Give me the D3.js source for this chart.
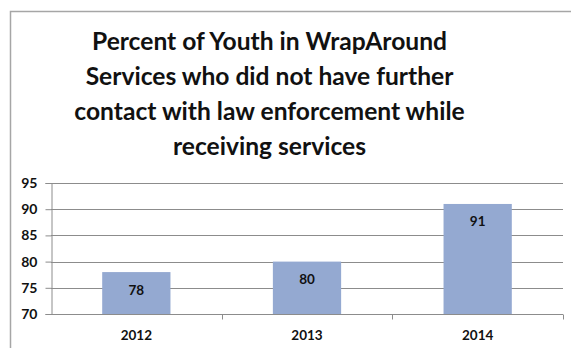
<!DOCTYPE html>
<html>
<head>
<meta charset="utf-8">
<script src="https://cdn.jsdelivr.net/npm/d3@7"></script>
<style>
  html, body { margin: 0; padding: 0; background: #fff; }
  svg { display: block; }
  text { font-family: Lato, "Open Sans", sans-serif; font-weight: bold; fill: #111; }
</style>
</head>
<body>
<svg id="chart" width="571" height="348"></svg>
<script>
// Chart data
const years = ["2012", "2013", "2014"];
const percents = [78, 80, 91];
const yTicks = [70, 75, 80, 85, 90, 95];
const titleLines = [
  "Percent of Youth in WrapAround",
  "Services who did not have further",
  "contact with law enforcement while",
  "receiving services"
];

const svg = d3.select("#chart");
const W = 571, H = 348;
const plot = { left: 51, right: 563, top: 183, bottom: 314 };

// Outer chart frame (top and left edges visible)
svg.append("path")
  .attr("d", `M10.5,${H} V11.5 H${W}`)
  .attr("fill", "none")
  .attr("stroke", "#a6a6a6")
  .attr("stroke-width", 1.5);

// Title
svg.append("g").selectAll("text").data(titleLines).join("text")
  .attr("x", 269.5)
  .attr("y", (d, i) => 50 + i * 35)
  .attr("text-anchor", "middle")
  .attr("font-size", 24.6)
  .text(d => d);

const x = d3.scaleBand().domain(years).range([plot.left, plot.right]).paddingInner(0.6).paddingOuter(0.3);
const y = d3.scaleLinear().domain([70, 95]).range([plot.bottom, plot.top]);

// Horizontal gridlines
svg.append("g").selectAll("line").data(yTicks.filter(t => t > 70)).join("line")
  .attr("x1", plot.left).attr("x2", plot.right)
  .attr("y1", d => Math.round(y(d)) + 0.5).attr("y2", d => Math.round(y(d)) + 0.5)
  .attr("stroke", "#8c8c8c").attr("stroke-width", 1);

// Bars
svg.append("g").selectAll("rect").data(percents).join("rect")
  .attr("x", (d, i) => x(years[i]))
  .attr("width", x.bandwidth())
  .attr("y", d => y(d))
  .attr("height", d => y(70) - y(d))
  .attr("fill", "#94a9d1");

// Value labels, inside the top of each bar
svg.append("g").selectAll("text").data(percents).join("text")
  .attr("x", (d, i) => x(years[i]) + x.bandwidth() / 2)
  .attr("y", d => y(d) + 22.5)
  .attr("text-anchor", "middle")
  .attr("font-size", 13.5)
  .text(d => d);

// Y axis
const yAxis = d3.axisLeft(y).tickValues(yTicks).tickSize(6).tickPadding(8);
const gy = svg.append("g").attr("transform", `translate(${plot.left + 0.5},0)`).call(yAxis);
gy.select(".domain").attr("stroke", "#8c8c8c");
gy.selectAll(".tick line").attr("stroke", "#8c8c8c");
gy.selectAll(".tick text").attr("font-size", 14).attr("font-family", "Lato, sans-serif").attr("font-weight", "bold").attr("fill", "#111");

// X axis: ticks at category boundaries
const xAxisG = svg.append("g").attr("transform", `translate(0,${plot.bottom + 0.5})`);
xAxisG.append("line")
  .attr("x1", plot.left).attr("x2", plot.right)
  .attr("stroke", "#8c8c8c");
const boundaries = d3.range(1, years.length + 1).map(i => plot.left + (plot.right - plot.left) * i / years.length);
xAxisG.selectAll(".bt").data(boundaries).join("line")
  .attr("class", "bt")
  .attr("x1", d => Math.round(d) + 0.5).attr("x2", d => Math.round(d) + 0.5)
  .attr("y1", 0).attr("y2", 5)
  .attr("stroke", "#8c8c8c");
xAxisG.selectAll("text").data(years).join("text")
  .attr("x", d => x(d) + x.bandwidth() / 2)
  .attr("y", 25)
  .attr("text-anchor", "middle")
  .attr("font-size", 13.5)
  .text(d => d);
</script>
</body>
</html>
